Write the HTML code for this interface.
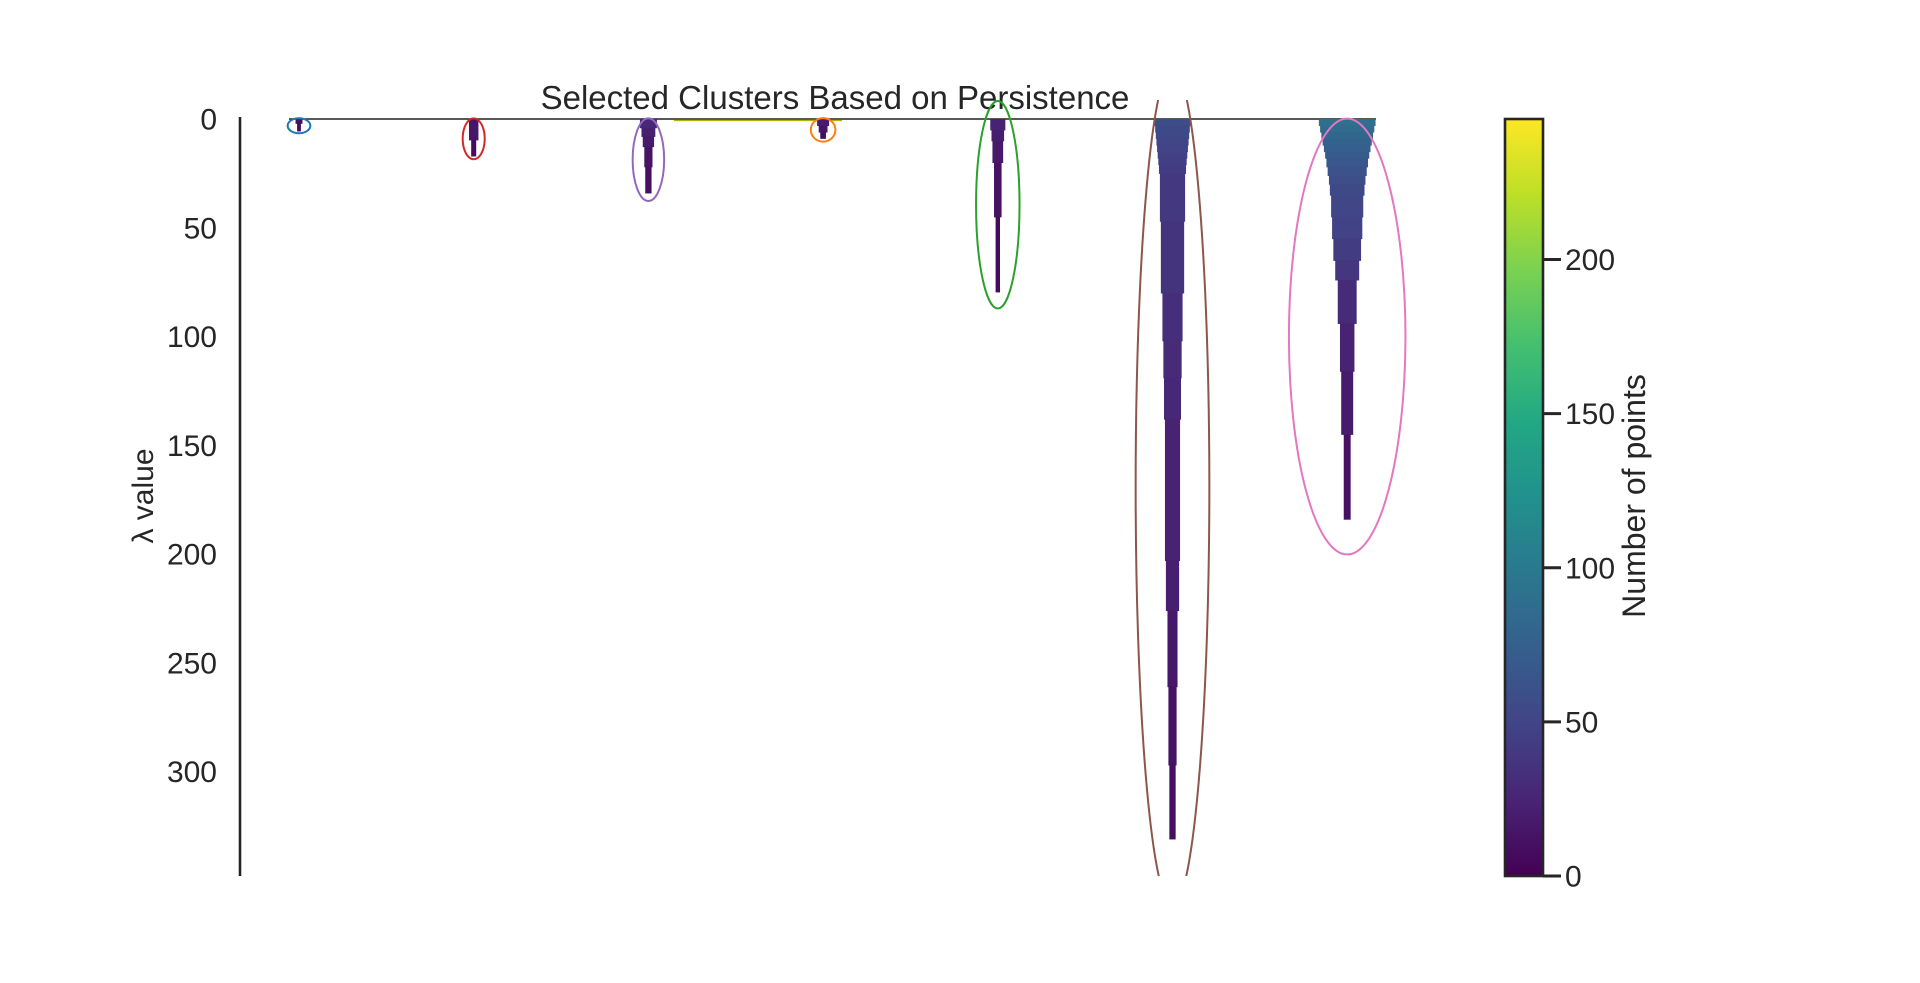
<!DOCTYPE html>
<html><head><meta charset="utf-8"><style>
html,body{margin:0;padding:0;background:#fff;}
svg{display:block;font-family:"Liberation Sans",Arial,sans-serif;}
</style></head><body>
<svg id="chart" width="1920" height="983" viewBox="0 0 1920 983" xmlns="http://www.w3.org/2000/svg">
<defs>
<linearGradient id="cbgrad" x1="0" y1="1" x2="0" y2="0">
<stop offset="0" stop-color="#440154"/><stop offset="0.1" stop-color="#482475"/><stop offset="0.2" stop-color="#414487"/><stop offset="0.3" stop-color="#355f8d"/><stop offset="0.4" stop-color="#2a788e"/><stop offset="0.5" stop-color="#21918c"/><stop offset="0.6" stop-color="#22a884"/><stop offset="0.7" stop-color="#44bf70"/><stop offset="0.8" stop-color="#7ad151"/><stop offset="0.9" stop-color="#bddf26"/><stop offset="1" stop-color="#fde725"/>
</linearGradient>
<clipPath id="plotclip"><rect x="240" y="100" width="1230" height="776"/></clipPath>
</defs>
<text x="835" y="109" font-size="33" fill="#262626" text-anchor="middle">Selected Clusters Based on Persistence</text>
<text x="0" y="0" font-size="30" fill="#262626" text-anchor="middle" transform="translate(153,496) rotate(-90)">λ value</text>
<text x="0" y="0" font-size="32" fill="#262626" text-anchor="middle" transform="translate(1645,496) rotate(-90)">Number of points</text>
<g id="yticks"></g>
<line x1="289" y1="119" x2="1376" y2="119" stroke="#222" stroke-width="1.6"/>
<line x1="674" y1="120.5" x2="842" y2="120.5" stroke="#b5b000" stroke-width="1.2"/>
<g id="icicles"></g>
<g id="ellipses" clip-path="url(#plotclip)"></g>
<line x1="240" y1="117" x2="240" y2="876" stroke="#262626" stroke-width="2.6"/>
<rect x="1505" y="119" width="38" height="757" fill="url(#cbgrad)" stroke="#262626" stroke-width="2.6"/>
<g id="cbticks"></g>
</svg>
<script>
const yTicks = [0, 50, 100, 150, 200, 250, 300];
const cbTicks = [0, 50, 100, 150, 200];
const cbMax = 245.6;
const clusterNames = ['blue', 'red', 'purple', 'orange', 'green', 'brown', 'pink'];
const clusterColors = ['#1f77b4', '#d62728', '#9467bd', '#ff7f0e', '#2ca02c', '#8c564b', '#e377c2'];
const lambdaBreaks = [
  [0, 2, 5.5],
  [0, 9.6, 17],
  [0, 4, 8, 12.7, 22, 34],
  [0, 3, 6, 8.9],
  [0, 5, 10, 20, 45, 79.5],
  [0, 3, 6, 9, 12, 15, 18, 21, 25, 47, 80, 102, 119, 138, 203, 226, 261, 297, 331],
  [0, 3, 6, 9, 12, 15, 18, 22, 26, 30, 35, 45, 55, 65, 74, 94, 116, 145, 184]
];
const pointCounts = [
  [11, 6],
  [15, 8],
  [27, 22, 18, 13, 10],
  [19, 14, 9],
  [24, 20, 17, 12, 7],
  [57, 55, 53, 51, 49, 47, 45, 43, 40, 37, 32, 29, 27, 24, 21, 16, 13, 10],
  [90, 86, 82, 78, 74, 70, 66, 62, 58, 55, 51, 48, 44, 38, 30, 23, 19, 11]
];
const ellipseCenterLambda = [3.1, 9.1, 18.7, 5.0, 39.4, 169, 100];
const ellipseSemiLambda = [3.45, 9.4, 19, 5.4, 47.7, 193, 100.2];
const ellipseWidthPts = [36, 35, 50, 39, 69, 117, 185];

const NS = 'http://www.w3.org/2000/svg';
const yScale = v => 119 + v * 2.175;
const xScale = i => 299 + i * 174.7;
const ptScale = p => p * 0.63;
const cbScale = v => 876 - v / cbMax * 757;
const vstops = ['#440154','#482475','#414487','#355f8d','#2a788e','#21918c','#22a884','#44bf70','#7ad151','#bddf26','#fde725'];
function hex(c){return [parseInt(c.slice(1,3),16),parseInt(c.slice(3,5),16),parseInt(c.slice(5,7),16)];}
function viridis(t){
  t=Math.max(0,Math.min(1,t));const s=t*10;const i=Math.min(9,Math.floor(s));const f=s-i;
  const a=hex(vstops[i]),b=hex(vstops[i+1]);
  return 'rgb('+a.map((v,k)=>Math.round(v+(b[k]-v)*f)).join(',')+')';
}
function mk(tag, attrs){const e=document.createElementNS(NS,tag);for(const k in attrs)e.setAttribute(k,attrs[k]);return e;}

const yg=document.getElementById('yticks');
yTicks.forEach(v=>{
  const t=mk('text',{x:217,y:yScale(v)+10.5,'font-size':30,fill:'#262626','text-anchor':'end'});
  
  
  t.textContent=v;yg.appendChild(t);
});

const ig=document.getElementById('icicles');
lambdaBreaks.forEach((br,ci)=>{
  const g=mk('g',{});
  
  
  const cx=xScale(ci);
  pointCounts[ci].forEach((p,j)=>{
    const w=ptScale(p);const y0=yScale(br[j]),y1=yScale(br[j+1]);
    const r=mk('rect',{x:cx-w/2,y:y0,width:w,height:y1-y0+0.5,fill:viridis(p/cbMax)});
    
    
    g.appendChild(r);
  });
  ig.appendChild(g);
});

const eg=document.getElementById('ellipses');
ellipseCenterLambda.forEach((c,ci)=>{
  const cy=yScale(c);const ry=ellipseSemiLambda[ci]*2.175;const rx=ptScale(ellipseWidthPts[ci])/2;
  const e=mk('ellipse',{cx:xScale(ci),cy:cy,rx:rx,ry:ry,fill:'none',stroke:clusterColors[ci],'stroke-width':2});
  
  
  eg.appendChild(e);
});

const cg=document.getElementById('cbticks');
cbTicks.forEach(v=>{
  const y=cbScale(v);
  const l=mk('line',{x1:1543,y1:y,x2:1561,y2:y,stroke:'#262626','stroke-width':3});
  
  
  cg.appendChild(l);
  const t=mk('text',{x:1565,y:y+10.5,'font-size':30,fill:'#262626'});
  
  
  t.textContent=v;cg.appendChild(t);
});
</script>
</body></html>
